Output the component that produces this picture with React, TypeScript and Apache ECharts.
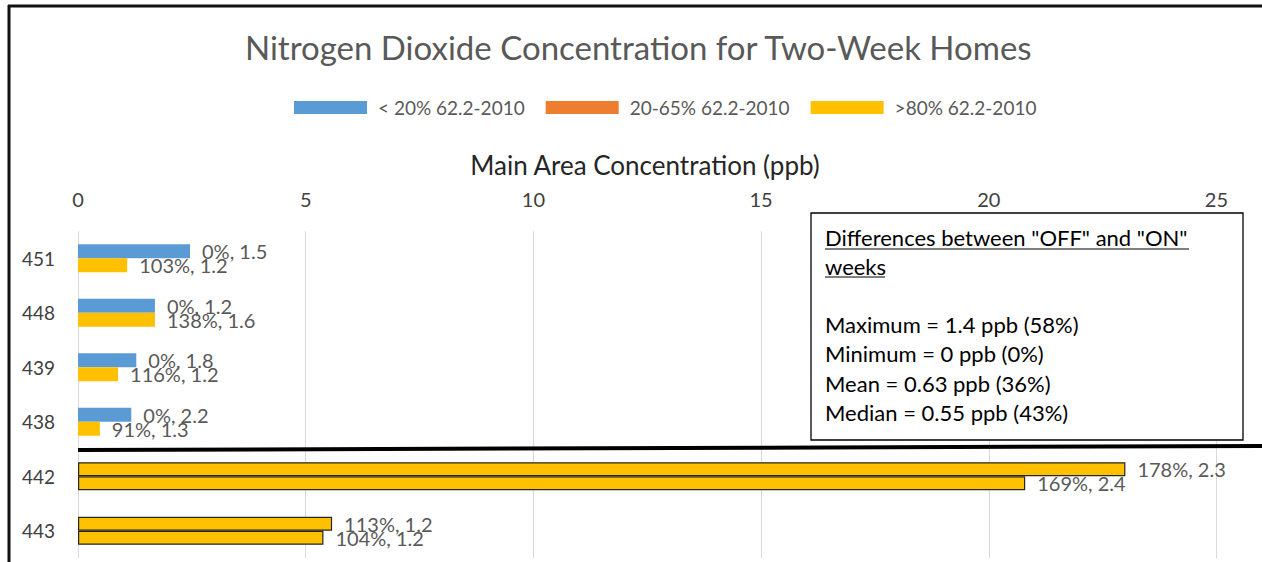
import React, { useEffect, useRef } from "react";
import * as echarts from "echarts";

const homes = ["451", "448", "439", "438", "442", "443"];
const offValuesLow = [2.46, 1.69, 1.28, 1.17, null, null];
const offValuesMid = [null, null, null, null, null, null];
const offValuesHigh = [null, null, null, null, 23.0, 5.58];
const onValues = [1.08, 1.69, 0.88, 0.48, 20.8, 5.39];
const offLabels = ["0%, 1.5", "0%, 1.2", "0%, 1.8", "0%, 2.2", "178%, 2.3", "113%, 1.2"];
const onLabels = ["103%, 1.2", "138%, 1.6", "116%, 1.2", "91%, 1.3", "169%, 2.4", "104%, 1.2"];
const bordered = [false, false, false, false, true, true];
const xTicks = [0, 5, 10, 15, 20, 25];
const seriesNames = ["< 20% 62.2-2010", "20-65% 62.2-2010", ">80% 62.2-2010"];
const boxHeading = ['Differences between "OFF" and "ON"', "weeks"];
const boxStats = [
  "Maximum = 1.4 ppb (58%)",
  "Minimum = 0 ppb (0%)",
  "Mean = 0.63 ppb (36%)",
  "Median = 0.55 ppb (43%)",
];

const FONT = "Lato, 'Open Sans', sans-serif";
const BLUE = "#5B9BD5";
const ORANGE = "#ED7D31";
const YELLOW = "#FFC000";

export default function App() {
  const ref = useRef<HTMLDivElement>(null);
  useEffect(() => {
    if (!ref.current) return;
    const chart = echarts.init(ref.current, null, { renderer: "svg" });
    const toData = (vals: (number | null)[]) =>
      vals.map((v, i) =>
        v === null
          ? "-"
          : {
              value: v,
              itemStyle: bordered[i]
                ? { borderColor: "#262626", borderWidth: 1.2 }
                : { borderWidth: 0 },
            }
      );
    const labelCfg = (labels: string[]) => ({
      show: true,
      position: "right",
      distance: 12,
      fontFamily: FONT,
      fontSize: 20,
      color: "#595959",
      formatter: (p: any) => labels[p.dataIndex],
    });
    const barCommon = {
      type: "bar",
      barWidth: 14,
      barGap: "0%",
      barCategoryGap: "48%",
    };
    const graphics: any[] = [
      {
        type: "line",
        shape: { x1: 78, y1: 450, x2: 1262, y2: 446 },
        style: { stroke: "#000", lineWidth: 4 },
        z: 100,
      },
      {
        type: "rect",
        shape: { x: 811, y: 213, width: 432, height: 227 },
        style: { fill: "#fff", stroke: "#000", lineWidth: 1.3 },
        z: 100,
      },
      {
        type: "line",
        shape: { x1: 9, y1: 5, x2: 9, y2: 562 },
        style: { stroke: "#111", lineWidth: 3 },
        z: 100,
      },
      {
        type: "line",
        shape: { x1: 8, y1: 6, x2: 1262, y2: 6 },
        style: { stroke: "#111", lineWidth: 3 },
        z: 100,
      },
    ];
    boxHeading.forEach((t, i) => {
      graphics.push({
        type: "text",
        x: 825,
        y: 237 + i * 29,
        style: {
          text: t,
          fontFamily: FONT,
          fontSize: 22,
          fill: "#000",
          verticalAlign: "middle",
        },
        z: 101,
      });
    });
    graphics.push({
      type: "line",
      shape: { x1: 825, y1: 249, x2: 1189, y2: 249 },
      style: { stroke: "#000", lineWidth: 1 },
      z: 101,
    });
    graphics.push({
      type: "line",
      shape: { x1: 825, y1: 277, x2: 885, y2: 277 },
      style: { stroke: "#000", lineWidth: 1 },
      z: 101,
    });
    boxStats.forEach((t, i) => {
      graphics.push({
        type: "text",
        x: 825,
        y: 324 + i * 29.5,
        style: {
          text: t,
          fontFamily: FONT,
          fontSize: 22,
          fill: "#000",
          verticalAlign: "middle",
        },
        z: 101,
      });
    });

    chart.setOption({
      animation: false,
      backgroundColor: "#fff",
      title: {
        text: "Nitrogen Dioxide Concentration for Two-Week Homes",
        left: 240,
        top: 25,
        textStyle: {
          fontFamily: FONT,
          fontSize: 33,
          fontWeight: "normal",
          color: "#595959",
        },
      },
      legend: {
        data: seriesNames,
        left: 289,
        top: 93,
        icon: "rect",
        itemWidth: 73,
        itemHeight: 13,
        itemGap: 21,
        textStyle: { fontFamily: FONT, fontSize: 19, color: "#595959", padding: [0, 0, 0, 6] },
      },
      grid: { left: 78, right: 0, top: 231, bottom: 4, containLabel: false },
      xAxis: {
        type: "value",
        position: "top",
        min: 0,
        max: 26,
        interval: 5,
        name: "Main Area Concentration (ppb)",
        nameLocation: "middle",
        nameGap: 53,
        nameTextStyle: {
          fontFamily: FONT,
          fontSize: 26,
          color: "#262626",
          padding: [0, 50, 0, 0],
        },
        axisLine: { show: false },
        axisTick: { show: false },
        axisLabel: {
          margin: 22,
          fontFamily: FONT,
          fontSize: 20,
          color: "#404040",
          showMaxLabel: false,
          formatter: (v: number) => (xTicks.includes(v) ? String(v) : ""),
        },
        splitLine: { show: true, lineStyle: { color: "#d9d9d9", width: 1 } },
      },
      yAxis: {
        type: "category",
        data: homes,
        inverse: true,
        axisLine: { show: false },
        axisTick: { show: false },
        axisLabel: { margin: 23, fontFamily: FONT, fontSize: 19, color: "#404040" },
      },
      series: [
        {
          ...barCommon,
          name: seriesNames[0],
          stack: "off",
          itemStyle: { color: BLUE },
          label: labelCfg(offLabels),
          data: toData(offValuesLow),
        },
        {
          ...barCommon,
          name: seriesNames[1],
          stack: "off",
          itemStyle: { color: ORANGE },
          data: toData(offValuesMid),
        },
        {
          ...barCommon,
          name: seriesNames[2],
          stack: "off",
          itemStyle: { color: YELLOW },
          label: labelCfg(offLabels),
          data: toData(offValuesHigh),
        },
        {
          ...barCommon,
          name: "ON weeks",
          stack: "on",
          itemStyle: { color: YELLOW },
          label: labelCfg(onLabels),
          data: toData(onValues),
        },
      ],
      graphic: graphics,
    });
    return () => chart.dispose();
  }, []);
  return (
    <div
      ref={ref}
      style={{ position: "absolute", left: 0, top: 0, width: 1262, height: 562 }}
    />
  );
}
